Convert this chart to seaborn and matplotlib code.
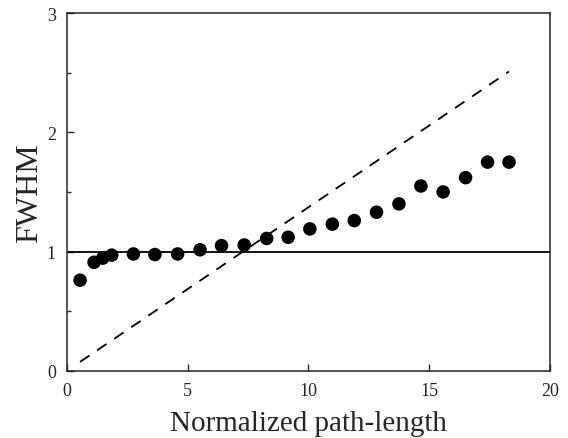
import matplotlib
matplotlib.use("Agg")
import matplotlib.pyplot as plt
import numpy as np
import pandas as pd
import seaborn as sns

# measured FWHM vs normalized path length
path_length = [0.54, 1.12, 1.48, 1.85, 2.75, 3.64, 4.58, 5.51, 6.40, 7.34, 8.27,
               9.16, 10.06, 10.99, 11.90, 12.82, 13.75, 14.66, 15.58, 16.51,
               17.42, 18.31]
fwhm = [0.76, 0.91, 0.945, 0.97, 0.98, 0.975, 0.98, 1.015, 1.05, 1.055, 1.11,
        1.12, 1.19, 1.23, 1.26, 1.33, 1.40, 1.55, 1.50, 1.62, 1.75, 1.75]

# dashed reference line
ref_x = [0.54, 18.31]
ref_y = [0.075, 2.51]

# horizontal line level
unity = 1.0

sns.set_style("ticks")
plt.rcParams["font.family"] = ["Liberation Serif", "DejaVu Serif"]

fig = plt.figure(figsize=(5.68, 4.39), dpi=100)
ax = fig.add_axes([0.118, 0.153, 0.850, 0.815])

df = pd.DataFrame({"x": path_length, "y": fwhm})
sns.scatterplot(data=df, x="x", y="y", color="black", s=95, edgecolor="none",
                ax=ax, zorder=3)
sns.lineplot(x=ref_x, y=ref_y, color="black", lw=1.3, ax=ax)
ax.lines[-1].set_dashes((6.3, 5.1))
ax.axhline(unity, color="black", lw=1.3)

ax.set_xlim(0, 20)
ax.set_ylim(0, 3)
ax.set_xticks([0, 5, 10, 15, 20])
ax.set_yticks([0, 1, 2, 3])
ax.set_yticks([0.5, 1.5, 2.5], minor=True)
ax.tick_params(axis="both", which="major", direction="in", length=5, width=1,
               labelsize=13, pad=8)
ax.tick_params(axis="y", which="minor", direction="in", length=3, width=1)
for s in ax.spines.values():
    s.set_linewidth(1.1)

ax.set_xlabel("Normalized path-length", fontsize=21, labelpad=8)
ax.set_ylabel("FWHM", fontsize=23, labelpad=2)

fig.savefig("out.png", dpi=100)
